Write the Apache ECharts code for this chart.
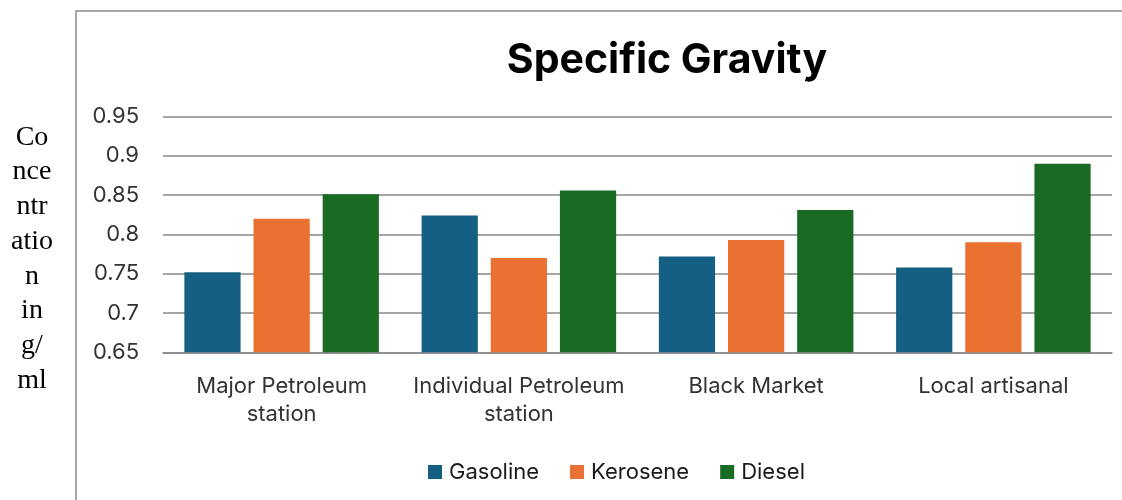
<!DOCTYPE html>
<html>
<head>
<meta charset="utf-8">
<script src="https://cdn.jsdelivr.net/npm/echarts@6/dist/echarts.min.js"></script>
<style>
  html, body { margin: 0; padding: 0; background: #fff; }
  #chart { width: 1122px; height: 500px; }
</style>
</head>
<body>
<div id="chart"></div>
<script>
// data
var categories = ['Major Petroleum\nstation', 'Individual Petroleum\nstation', 'Black Market', 'Local artisanal'];
var gasoline = [0.752, 0.824, 0.772, 0.758];
var kerosene = [0.820, 0.770, 0.793, 0.790];
var diesel = [0.851, 0.856, 0.831, 0.890];
var yTicks = { min: 0.65, max: 0.95, step: 0.05 };

var font = 'Inter, "Open Sans", sans-serif';
var gridColor = '#898989';

var chart = echarts.init(document.getElementById('chart'));
var option = {
  animation: false,
  color: ['#156082', '#E97132', '#196B24'],
  title: {
    text: 'Specific Gravity',
    left: 662,
    top: 35,
    textAlign: 'center',
    textStyle: { fontFamily: font, fontSize: 41, fontWeight: 'bold', color: '#000' }
  },
  legend: {
    left: 423,
    top: 456,
    itemWidth: 14,
    itemHeight: 14,
    itemGap: 31,
    icon: 'rect',
    textStyle: { fontFamily: font, fontSize: 22, color: '#1a1a1a', padding: [0, 0, 0, 2] },
    data: ['Gasoline', 'Kerosene', 'Diesel']
  },
  graphic: [
    {
      type: 'rect',
      shape: { x: 76, y: 11, width: 1200, height: 600 },
      style: { fill: 'none', stroke: '#8a8a8a', lineWidth: 1.5 },
      silent: true
    },
    {
      type: 'text',
      x: 32,
      y: 120,
      style: {
        text: 'Co\nnce\nntr\natio\nn\nin\ng/\nml',
        align: 'center',
        lineHeight: 34.7,
        font: '28px "Liberation Serif", "Times New Roman", serif',
        fill: '#000'
      }
    }
  ],
  grid: { left: 163, right: 10, top: 116.5, bottom: 147.7, containLabel: false },
  xAxis: {
    type: 'category',
    data: categories,
    axisLine: { lineStyle: { color: gridColor, width: 1.5 } },
    axisTick: { show: false },
    axisLabel: {
      fontFamily: font, fontSize: 22, color: '#333', lineHeight: 28, margin: 20, interval: 0
    }
  },
  yAxis: {
    type: 'value',
    min: yTicks.min,
    max: yTicks.max,
    interval: yTicks.step,
    axisLine: { show: false },
    axisTick: { show: false },
    splitLine: { lineStyle: { color: gridColor, width: 1.5 } },
    axisLabel: {
      fontFamily: font, fontSize: 22, color: '#333', margin: 24,
      formatter: function (v) { return String(+v.toFixed(2)); }
    }
  },
  series: [
    { name: 'Gasoline', type: 'bar', data: gasoline, barGap: '23%', barCategoryGap: '18%' },
    { name: 'Kerosene', type: 'bar', data: kerosene },
    { name: 'Diesel', type: 'bar', data: diesel }
  ]
};
chart.setOption(option);
</script>
</body>
</html>
